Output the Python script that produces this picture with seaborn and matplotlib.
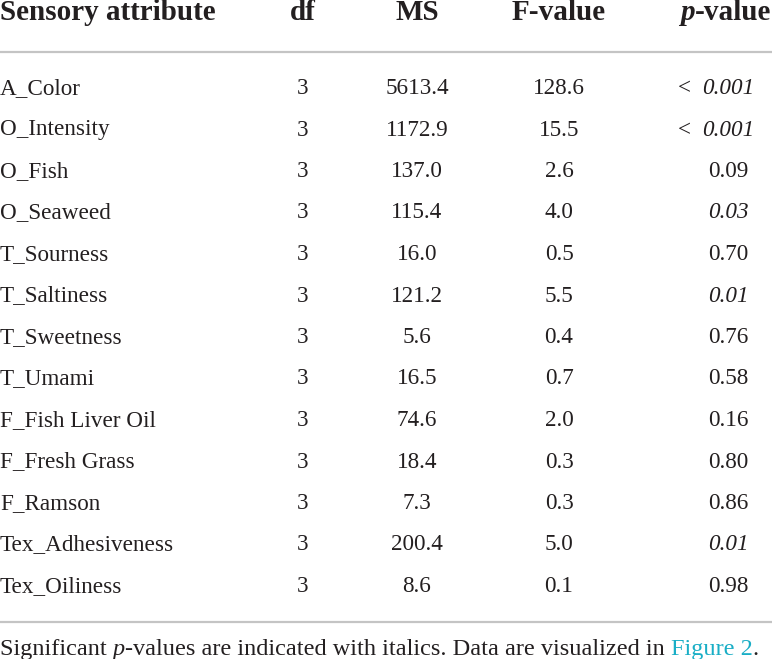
import matplotlib
matplotlib.use('Agg')
import matplotlib.pyplot as plt
import seaborn as sns

attributes = ['A_Color', 'O_Intensity', 'O_Fish', 'O_Seaweed', 'T_Sourness', 'T_Saltiness',
              'T_Sweetness', 'T_Umami', 'F_Fish Liver Oil', 'F_Fresh Grass', 'F_Ramson',
              'Tex_Adhesiveness', 'Tex_Oiliness']
df_vals = [3, 3, 3, 3, 3, 3, 3, 3, 3, 3, 3, 3, 3]
ms_vals = ['5613.4', '1172.9', '137.0', '115.4', '16.0', '121.2', '5.6', '16.5', '74.6',
           '18.4', '7.3', '200.4', '8.6']
f_vals = ['128.6', '15.5', '2.6', '4.0', '0.5', '5.5', '0.4', '0.7', '2.0', '0.3', '0.3',
          '5.0', '0.1']
p_vals = ['< 0.001', '< 0.001', '0.09', '0.03', '0.70', '0.01', '0.76', '0.58', '0.16',
          '0.80', '0.86', '0.01', '0.98']
significant = [True, True, False, True, False, True, False, False, False, False, False,
               True, False]
headers = ['Sensory attribute', 'df', 'MS', 'F-value']

sns.set_theme(style='white')
plt.rcParams['font.family'] = ['Liberation Serif', 'DejaVu Serif']

txt = '#231f20'
fig = plt.figure(figsize=(7.72, 6.59), dpi=100)
ax = fig.add_axes([0, 0, 1, 1])
ax.set_xlim(0, 772)
ax.set_ylim(659, 0)
ax.axis('off')
fig.canvas.draw()
renderer = fig.canvas.get_renderer()


def runs(x, y, parts, size, weight='normal', align='left'):
    # draw a row of text pieces with different styles, one after another
    widths = []
    for s, style, c in parts:
        t = ax.text(0, 0, s, fontsize=size, fontstyle=style, fontweight=weight)
        widths.append(t.get_window_extent(renderer=renderer).width)
        t.remove()
    total = sum(widths)
    if align == 'center':
        x -= total / 2
    for (s, style, c), w in zip(parts, widths):
        ax.text(x, y, s, ha='left', va='baseline', fontsize=size, fontstyle=style,
                fontweight=weight, color=c)
        x += w


col_x = [0, 303, 417, 559, 726]
hs = 21
bs = 16.7

ax.text(col_x[0], 20, headers[0], ha='left', va='baseline', fontsize=hs, fontweight='bold', color=txt)
for j in range(1, 4):
    ax.text(col_x[j], 20, headers[j], ha='center', va='baseline', fontsize=hs, fontweight='bold', color=txt)
runs(col_x[4], 20, [('p', 'italic', txt), ('-value', 'normal', txt)], hs, weight='bold', align='center')

ax.axhline(52, color='#c4c4c4', lw=1.6)
ax.axhline(622, color='#c4c4c4', lw=1.6)

for i, name in enumerate(attributes):
    y = 94 + 41.5 * i
    ax.text(col_x[0], y, name, ha='left', va='baseline', fontsize=bs, color=txt)
    ax.text(col_x[1], y, str(df_vals[i]), ha='center', va='baseline', fontsize=bs, color=txt)
    ax.text(col_x[2], y, ms_vals[i], ha='center', va='baseline', fontsize=bs, color=txt)
    ax.text(col_x[3], y, f_vals[i], ha='center', va='baseline', fontsize=bs, color=txt)
    if p_vals[i].startswith('<'):
        runs(716, y, [('<  ', 'normal', txt), (p_vals[i][2:], 'italic', txt)], bs, align='center')
    else:
        ax.text(col_x[4] + 2, y, p_vals[i], ha='center', va='baseline', fontsize=bs,
                fontstyle='italic' if significant[i] else 'normal', color=txt)

runs(0, 655, [('Significant ', 'normal', txt), ('p', 'italic', txt),
              ('-values are indicated with italics. Data are visualized in ', 'normal', txt),
              ('Figure 2', 'normal', '#19aec6'), ('.', 'normal', txt)], 17.5)

fig.savefig('out.png', dpi=100)
